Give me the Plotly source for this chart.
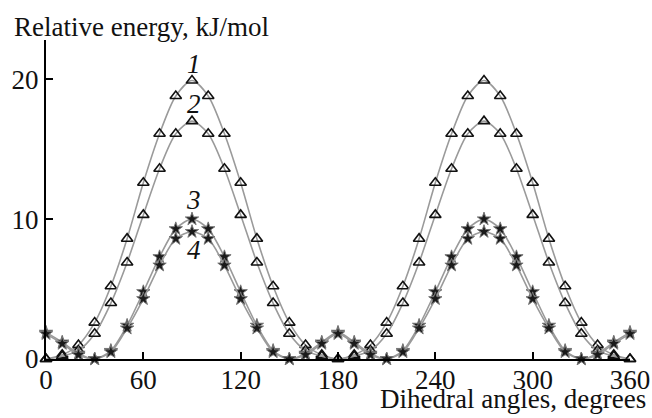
import plotly.graph_objects as go

angles = list(range(0, 361, 10))

curve1 = [0, 0.3, 1.0, 2.6, 5.2, 8.6, 12.6, 16.1, 18.8, 19.9, 18.8, 16.1, 12.6, 8.6, 5.2, 2.6, 1.0, 0.3, 0,
          0.3, 1.0, 2.6, 5.2, 8.6, 12.6, 16.1, 18.8, 19.9, 18.8, 16.1, 12.6, 8.6, 5.2, 2.6, 1.0, 0.3, 0]
curve2 = [0, 0.2, 0.6, 1.8, 4.0, 6.9, 10.3, 13.6, 16.1, 17.0, 16.1, 13.6, 10.3, 6.9, 4.0, 1.8, 0.6, 0.2, 0,
          0.2, 0.6, 1.8, 4.0, 6.9, 10.3, 13.6, 16.1, 17.0, 16.1, 13.6, 10.3, 6.9, 4.0, 1.8, 0.6, 0.2, 0]
curve3 = [1.9, 1.2, 0.4, 0.0, 0.6, 2.4, 4.8, 7.3, 9.3, 10.0, 9.3, 7.3, 4.8, 2.4, 0.6, 0.0, 0.4, 1.2, 1.9,
          1.2, 0.4, 0.0, 0.6, 2.4, 4.8, 7.3, 9.3, 10.0, 9.3, 7.3, 4.8, 2.4, 0.6, 0.0, 0.4, 1.2, 1.9]
curve4 = [1.8, 1.1, 0.3, 0.0, 0.5, 2.2, 4.3, 6.7, 8.6, 9.1, 8.6, 6.7, 4.3, 2.2, 0.5, 0.0, 0.3, 1.1, 1.8,
          1.1, 0.3, 0.0, 0.5, 2.2, 4.3, 6.7, 8.6, 9.1, 8.6, 6.7, 4.3, 2.2, 0.5, 0.0, 0.3, 1.1, 1.8]

curve_labels = ["1", "2", "3", "4"]
label_x = [91, 91, 91, 91]
label_y = [21.1, 18.2, 11.4, 7.8]

x_ticks = [0, 60, 120, 180, 240, 300, 360]
y_ticks = [0, 10, 20]

FONT = "Liberation Serif, Times New Roman, serif"
FS = 27
LINE_COLOR = "#9a9a9a"

fig = go.Figure()

for ys in (curve1, curve2):
    fig.add_trace(go.Scatter(
        x=angles, y=ys, mode="lines+markers",
        line=dict(color=LINE_COLOR, width=1.6, shape="spline", smoothing=0.8),
        marker=dict(symbol="triangle-up-open", size=10, color="#111",
                    line=dict(width=1.6, color="#111")),
        cliponaxis=False, showlegend=False, hoverinfo="skip",
    ))

for ys in (curve3, curve4):
    fig.add_trace(go.Scatter(
        x=angles, y=ys, mode="lines+markers",
        line=dict(color=LINE_COLOR, width=1.6, shape="spline", smoothing=0.8),
        marker=dict(symbol="star", size=10, color="#1a1a1a",
                    line=dict(width=1, color="#777")),
        cliponaxis=False, showlegend=False, hoverinfo="skip",
    ))

for t, xx, yy in zip(curve_labels, label_x, label_y):
    fig.add_annotation(x=xx, y=yy, text="<i>%s</i>" % t, showarrow=False,
                       font=dict(family=FONT, size=FS, color="#111"),
                       xanchor="center", yanchor="middle")

fig.add_annotation(xref="paper", yref="paper", x=-0.059, y=1.0, yshift=-4,
                   text="Relative energy, kJ/mol", showarrow=False,
                   xanchor="left", yanchor="bottom",
                   font=dict(family=FONT, size=FS, color="#111"))
fig.add_annotation(xref="paper", yref="paper", x=1.031, y=0, yshift=-23,
                   text="Dihedral angles, degrees", showarrow=False,
                   xanchor="right", yanchor="top",
                   font=dict(family=FONT, size=FS, color="#111"))

fig.update_layout(
    width=652, height=418,
    margin=dict(l=46, r=22, t=40, b=59, autoexpand=False),
    paper_bgcolor="white", plot_bgcolor="white",
    font=dict(family=FONT, size=FS, color="#111"),
)
fig.update_xaxes(range=[0, 360], tickvals=x_ticks, ticks="inside", ticklen=7,
                 tickwidth=2, tickcolor="#000", showline=True, linewidth=2,
                 linecolor="#000", showgrid=False, zeroline=False, automargin=False,
                 ticklabelstandoff=-4,
                 tickfont=dict(family=FONT, size=FS, color="#111"))
fig.update_yaxes(range=[0, 22.8], tickvals=y_ticks, ticks="inside", ticklen=7,
                 tickwidth=2, tickcolor="#000", showline=True, linewidth=2,
                 linecolor="#000", showgrid=False, zeroline=False, automargin=False,
                 tickfont=dict(family=FONT, size=FS, color="#111"))

fig.write_html("out.html", config={"displayModeBar": False},
               post_script="document.body.style.margin='0px';")
